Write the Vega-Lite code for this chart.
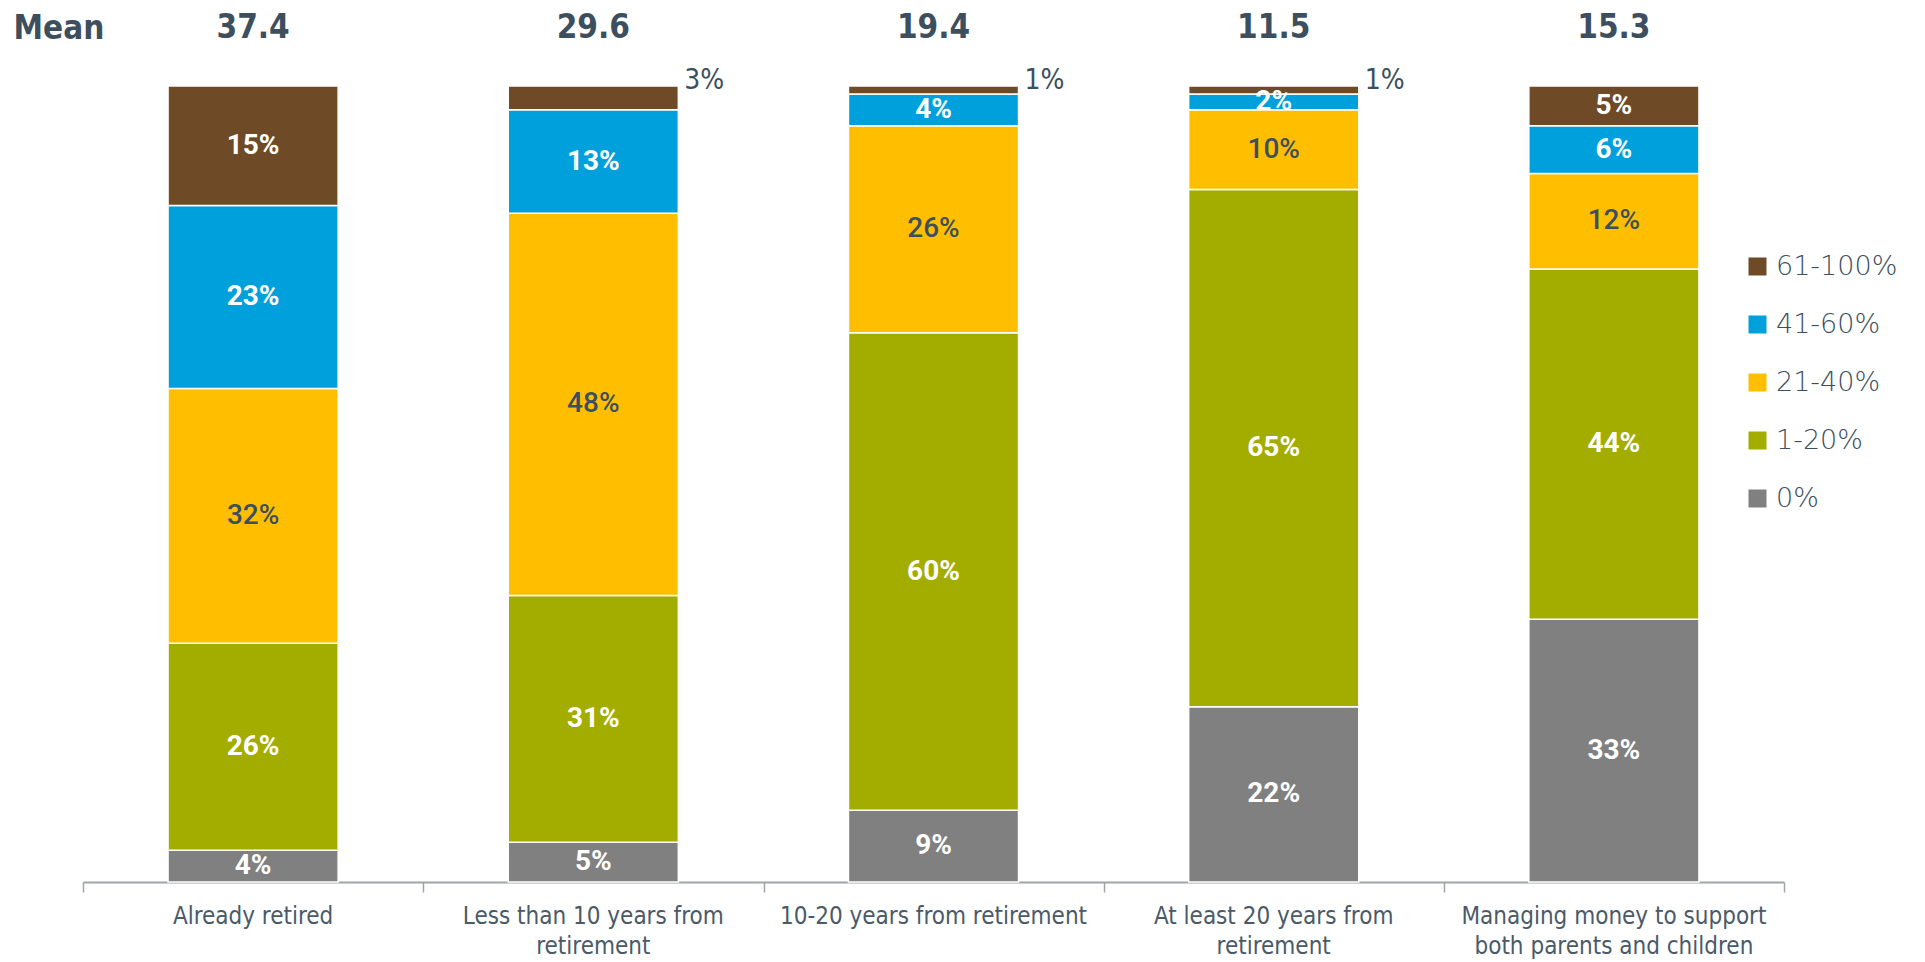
{
  "$schema": "https://vega.github.io/schema/vega-lite/v6.json",
  "autosize": {"type": "none"},
  "width": 1701,
  "height": 882,
  "padding": {"left": 83, "top": 0, "right": 141, "bottom": 80},
  "background": "white",
  "config": {"view": {"stroke": null}},
  "datasets": {
    "segs": [
      {"cat": "Already retired", "seg": "0%", "order": 1, "pct": 4},
      {"cat": "Already retired", "seg": "1-20%", "order": 2, "pct": 26},
      {"cat": "Already retired", "seg": "21-40%", "order": 3, "pct": 32},
      {"cat": "Already retired", "seg": "41-60%", "order": 4, "pct": 23},
      {"cat": "Already retired", "seg": "61-100%", "order": 5, "pct": 15},
      {"cat": "Less than 10 years from retirement", "seg": "0%", "order": 1, "pct": 5},
      {"cat": "Less than 10 years from retirement", "seg": "1-20%", "order": 2, "pct": 31},
      {"cat": "Less than 10 years from retirement", "seg": "21-40%", "order": 3, "pct": 48},
      {"cat": "Less than 10 years from retirement", "seg": "41-60%", "order": 4, "pct": 13},
      {"cat": "Less than 10 years from retirement", "seg": "61-100%", "order": 5, "pct": 3},
      {"cat": "10-20 years from retirement", "seg": "0%", "order": 1, "pct": 9},
      {"cat": "10-20 years from retirement", "seg": "1-20%", "order": 2, "pct": 60},
      {"cat": "10-20 years from retirement", "seg": "21-40%", "order": 3, "pct": 26},
      {"cat": "10-20 years from retirement", "seg": "41-60%", "order": 4, "pct": 4},
      {"cat": "10-20 years from retirement", "seg": "61-100%", "order": 5, "pct": 1},
      {"cat": "At least 20 years from retirement", "seg": "0%", "order": 1, "pct": 22},
      {"cat": "At least 20 years from retirement", "seg": "1-20%", "order": 2, "pct": 65},
      {"cat": "At least 20 years from retirement", "seg": "21-40%", "order": 3, "pct": 10},
      {"cat": "At least 20 years from retirement", "seg": "41-60%", "order": 4, "pct": 2},
      {"cat": "At least 20 years from retirement", "seg": "61-100%", "order": 5, "pct": 1},
      {"cat": "Managing money to support both parents and children", "seg": "0%", "order": 1, "pct": 33},
      {"cat": "Managing money to support both parents and children", "seg": "1-20%", "order": 2, "pct": 44},
      {"cat": "Managing money to support both parents and children", "seg": "21-40%", "order": 3, "pct": 12},
      {"cat": "Managing money to support both parents and children", "seg": "41-60%", "order": 4, "pct": 6},
      {"cat": "Managing money to support both parents and children", "seg": "61-100%", "order": 5, "pct": 5}
    ],
    "means": [
      {"cat": "Already retired", "mean": "37.4"},
      {"cat": "Less than 10 years from retirement", "mean": "29.6"},
      {"cat": "10-20 years from retirement", "mean": "19.4"},
      {"cat": "At least 20 years from retirement", "mean": "11.5"},
      {"cat": "Managing money to support both parents and children", "mean": "15.3"}
    ]
  },
  "resolve": {"axis": {"x": "independent", "y": "independent"}},
  "layer": [
    {
      "data": {"name": "segs"},
      "transform": [
        {"stack": "pct", "groupby": ["cat"], "sort": [{"field": "order"}], "as": ["y0", "y1"]}
      ],
      "mark": {"type": "bar", "stroke": "#ffffff", "strokeWidth": 1.5},
      "encoding": {
        "x": {
          "field": "cat", "type": "nominal", "sort": null,
          "scale": {"paddingInner": 0.5, "paddingOuter": 0.25},
          "axis": {
            "orient": "bottom", "title": null, "labels": false, "tickOffset": -170,
            "domainColor": "#a0a4a8", "domainWidth": 2, "tickColor": "#a0a4a8", "tickWidth": 1.5, "tickSize": 10
          }
        },
        "y": {
          "field": "y0", "type": "quantitative",
          "scale": {"domain": [0, 110.8], "nice": false, "zero": true},
          "axis": {
            "orient": "left", "title": "Mean", "labels": false, "ticks": false, "domain": false, "grid": false,
            "titleAngle": 0, "titleX": -70, "titleY": 28, "titleAlign": "left", "titleBaseline": "middle",
            "titleFont": "DejaVu Sans Condensed, Liberation Sans Narrow, sans-serif", "titleFontSize": 33, "titleFontWeight": "bold", "titleColor": "#3d4f5e"
          }
        },
        "y2": {"field": "y1"},
        "color": {
          "field": "seg", "type": "nominal",
          "scale": {
            "domain": ["61-100%", "41-60%", "21-40%", "1-20%", "0%"],
            "range": ["#6e4b26", "#00a0dc", "#ffbf00", "#a3ad00", "#808080"]
          },
          "legend": {
            "title": null, "orient": "none", "legendX": 1661, "legendY": 253,
            "symbolType": "square", "symbolSize": 324, "symbolStrokeWidth": 0, "symbolOpacity": 1,
            "labelFont": "DejaVu Sans", "labelFontSize": 27, "labelFontWeight": 200, "labelColor": "#3d4f5e", "labelOffset": 5,
            "rowPadding": 30
          }
        }
      }
    },
    {
      "data": {"name": "segs"},
      "transform": [
        {"stack": "pct", "groupby": ["cat"], "sort": [{"field": "order"}], "as": ["y0", "y1"]},
        {"calculate": "(datum.y0 + datum.y1) / 2", "as": "mid"},
        {"calculate": "datum.pct + '%'", "as": "label"},
        {"filter": "datum.seg != '21-40%' && !(datum.seg == '61-100%' && datum.pct <= 3)"}
      ],
      "mark": {"type": "text", "font": "Roboto", "fontSize": 28, "fontWeight": "bold", "color": "#ffffff", "baseline": "middle", "align": "center"},
      "encoding": {
        "x": {
          "field": "cat", "type": "nominal", "sort": null,
          "axis": {
            "orient": "bottom", "title": null, "ticks": false, "domain": false, "labelAngle": 0,
            "labelFont": "DejaVu Sans Condensed, Liberation Sans Narrow, sans-serif", "labelFontSize": 24, "labelFontWeight": 300, "labelColor": "#4a5a68",
            "labelPadding": 22, "labelLineHeight": 30, "labelLimit": 400,
            "labelExpr": "datum.value == 'Less than 10 years from retirement' ? ['Less than 10 years from', 'retirement'] : datum.value == 'At least 20 years from retirement' ? ['At least 20 years from', 'retirement'] : datum.value == 'Managing money to support both parents and children' ? ['Managing money to support', 'both parents and children'] : datum.value"
          }
        },
        "y": {"field": "mid", "type": "quantitative", "axis": null},
        "text": {"field": "label"}
      }
    },
    {
      "data": {"name": "segs"},
      "transform": [
        {"stack": "pct", "groupby": ["cat"], "sort": [{"field": "order"}], "as": ["y0", "y1"]},
        {"calculate": "(datum.y0 + datum.y1) / 2", "as": "mid"},
        {"calculate": "datum.pct + '%'", "as": "label"},
        {"filter": "datum.seg == '21-40%'"}
      ],
      "mark": {"type": "text", "font": "Roboto", "fontSize": 28, "fontWeight": 500, "color": "#3d4f5e", "baseline": "middle", "align": "center"},
      "encoding": {
        "x": {
          "field": "cat", "type": "nominal", "sort": null,
          "axis": {
            "orient": "bottom", "title": null, "labels": false, "domain": false,
            "values": ["Managing money to support both parents and children"], "tickOffset": 170,
            "tickColor": "#a0a4a8", "tickWidth": 1.5, "tickSize": 10
          }
        },
        "y": {"field": "mid", "type": "quantitative", "axis": null},
        "text": {"field": "label"}
      }
    },
    {
      "data": {"name": "segs"},
      "transform": [
        {"filter": "datum.seg == '61-100%' && datum.pct <= 3"},
        {"calculate": "datum.pct + '%'", "as": "label"}
      ],
      "mark": {"type": "text", "font": "DejaVu Sans Condensed, Liberation Sans Narrow, sans-serif", "fontSize": 28, "color": "#3d4f5e", "baseline": "middle", "align": "left", "dx": 91, "dy": -5},
      "encoding": {
        "x": {"field": "cat", "type": "nominal", "sort": null, "axis": null},
        "y": {"datum": 100, "type": "quantitative", "axis": null},
        "text": {"field": "label"}
      }
    },
    {
      "data": {"name": "means"},
      "mark": {"type": "text", "font": "DejaVu Sans Condensed, Liberation Sans Narrow, sans-serif", "fontSize": 33, "fontWeight": "bold", "color": "#3d4f5e", "baseline": "middle", "align": "center"},
      "encoding": {
        "x": {"field": "cat", "type": "nominal", "sort": null, "axis": null},
        "y": {"datum": 107.3, "type": "quantitative", "axis": null},
        "text": {"field": "mean"}
      }
    }
  ]
}
